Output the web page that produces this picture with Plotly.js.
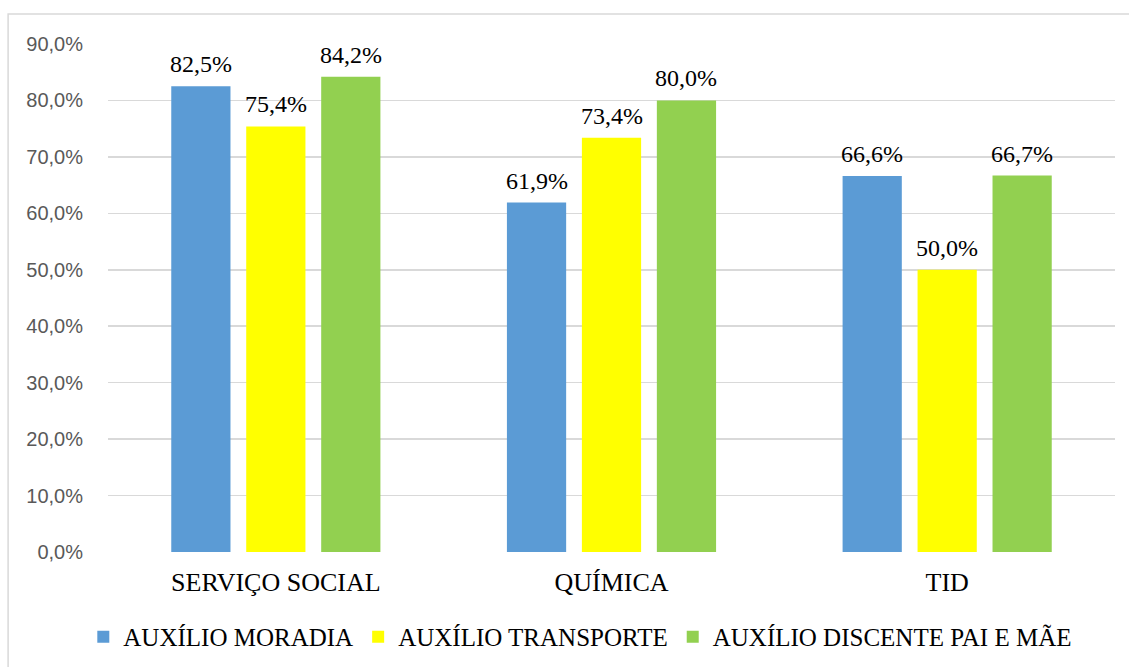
<!DOCTYPE html>
<html>
<head>
<meta charset="utf-8">
<script src="https://cdn.plot.ly/plotly-3.0.1.min.js"></script>
<style>html,body{margin:0;padding:0;background:#fff;}#chart{width:1129px;height:667px;}</style>
</head>
<body>
<div id="chart"></div>
<script>
const categories = ["SERVIÇO SOCIAL", "QUÍMICA", "TID"];
const seriesNames = ["AUXÍLIO MORADIA", "AUXÍLIO TRANSPORTE", "AUXÍLIO DISCENTE PAI E MÃE"];
const moradia = [82.5, 61.9, 66.6];
const transporte = [75.4, 73.4, 50.0];
const discente = [84.2, 80.0, 66.7];
const colors = ["#5b9bd5", "#ffff00", "#92d050"];
const yTickVals = [0,10,20,30,40,50,60,70,80,90];
const yTickText = ["0,0%","10,0%","20,0%","30,0%","40,0%","50,0%","60,0%","70,0%","80,0%","90,0%"];

const SERIF = 'Liberation Serif, Times New Roman, serif';
const fmt = v => v.toFixed(1).replace('.', ',') + '%';
const allSeries = [moradia, transporte, discente];
const traces = allSeries.map((vals, i) => ({
  type: 'bar',
  name: seriesNames[i],
  x: categories,
  y: vals,
  marker: {color: colors[i]},
  hoverinfo: 'none'
}));

const nS = allSeries.length;
const bargap = 0.33;
const annotations = [];
allSeries.forEach((vals, i) => {
  vals.forEach((v, j) => {
    const groupW = 1 - bargap;
    const off = -groupW / 2 + groupW / nS * (i + 0.5);
    annotations.push({
      x: j + off, y: v, xref: 'x', yref: 'y',
      text: fmt(v), showarrow: false, yanchor: 'bottom', yshift: 7,
      font: {family: SERIF, size: 24, color: '#000'}
    });
  });
});

const layout = {
  width: 1129, height: 667,
  margin: {l: 108, r: 14, t: 44, b: 115},
  paper_bgcolor: '#fff', plot_bgcolor: '#fff',
  font: {family: SERIF},
  barmode: 'group',
  bargap: bargap,
  bargroupgap: 0.21,
  showlegend: true,
  legend: {
    orientation: 'h', xref: 'container', yref: 'container',
    x: 0.514, xanchor: 'center', y: 0.045, yanchor: 'middle',
    font: {family: SERIF, size: 25, color: '#000'},
    itemwidth: 30, traceorder: 'normal', entrywidthmode: 'pixels'
  },
  xaxis: {
    type: 'category',
    range: [-0.5, 2.5],
    tickfont: {family: SERIF, size: 26, color: '#000'},
    showgrid: false, showline: false, zeroline: false,
    ticks: '', ticklabelstandoff: 12
  },
  yaxis: {
    range: [0, 90],
    tickvals: yTickVals, ticktext: yTickText,
    tickfont: {family: 'Liberation Sans, Arial, sans-serif', size: 20, color: '#595959'},
    showgrid: true, gridcolor: '#d9d9d9', gridwidth: 1.5,
    zeroline: false, showline: false, ticks: '', ticklabelstandoff: 24
  },
  annotations: annotations,
  shapes: [{
    type: 'rect', xref: 'paper', yref: 'paper',
    x0: -0.0992, x1: 1.05, y0: -0.25, y1: 1.059,
    line: {color: '#d9d9d9', width: 1.5}, fillcolor: 'rgba(0,0,0,0)', layer: 'below'
  }]
};

Plotly.newPlot('chart', traces, layout, {displayModeBar: false, staticPlot: true});
</script>
</body>
</html>
